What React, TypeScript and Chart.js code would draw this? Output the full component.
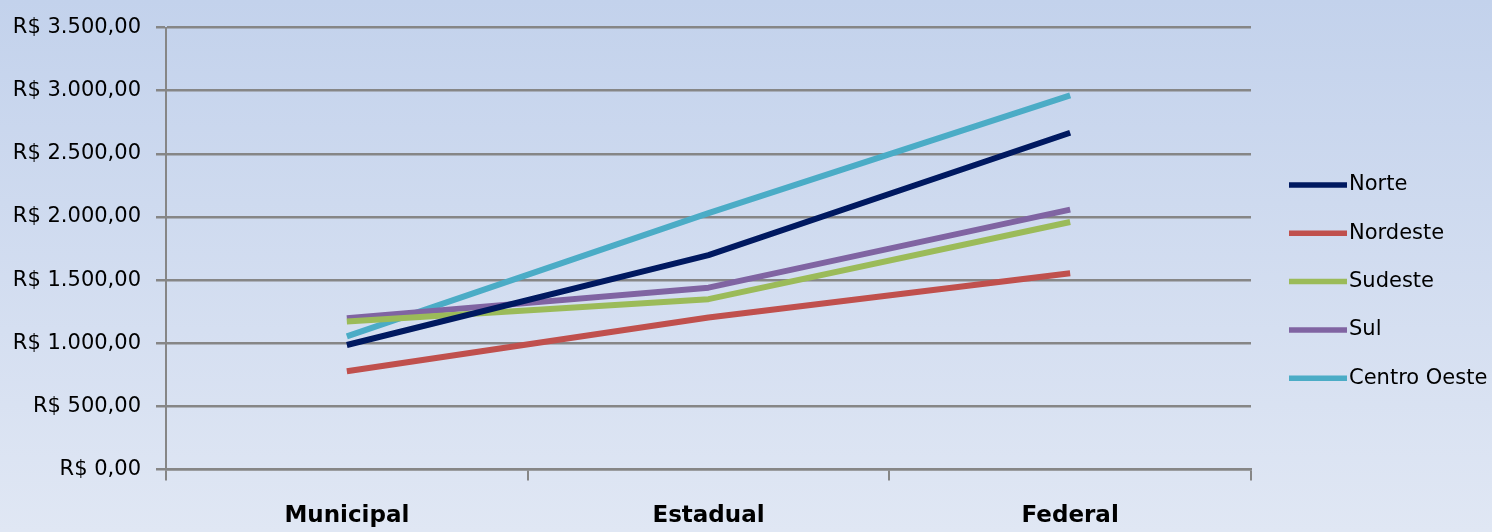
import React, { useEffect, useRef } from "react";
import { Chart, registerables } from "chart.js";

Chart.register(...registerables);

const categories = ["Municipal", "Estadual", "Federal"];
const seriesNames = ["Norte", "Nordeste", "Sudeste", "Sul", "Centro Oeste"];
const norte = [986, 1698, 2667];
const nordeste = [778, 1204, 1554];
const sudeste = [1172, 1349, 1960];
const sul = [1199, 1440, 2058];
const centroOeste = [1054, 2030, 2964];
const seriesColors = ["#001960", "#c0504d", "#9bbb59", "#8064a2", "#4bacc6"];
const yMin = 0;
const yMax = 3500;
const yStep = 500;

function formatBRL(v: number): string {
  const fixed = Math.abs(v).toFixed(2);
  const [intPart, dec] = fixed.split(".");
  const withDots = intPart.replace(/\B(?=(\d{3})+(?!\d))/g, ".");
  return "R$ " + withDots + "," + dec;
}

const GRID = "#868686";

const legendPlugin = {
  id: "customLegend",
  afterDraw(chart: any) {
    const ctx = chart.ctx;
    const area = chart.chartArea;
    const x0 = area.right + 38;
    const lineLen = 58;
    ctx.save();
    chart.data.datasets.forEach((ds: any, i: number) => {
      const y = 185 + i * 48.3;
      ctx.strokeStyle = ds.borderColor;
      ctx.lineWidth = 5.5;
      ctx.lineCap = "butt";
      ctx.beginPath();
      ctx.moveTo(x0, y);
      ctx.lineTo(x0 + lineLen, y);
      ctx.stroke();
      ctx.fillStyle = "#000";
      ctx.font = '21px "DejaVu Sans"';
      ctx.textBaseline = "middle";
      ctx.textAlign = "left";
      ctx.fillText(ds.label, x0 + lineLen + 2, y);
    });
    ctx.restore();
  },
};

export default function App() {
  const ref = useRef<HTMLCanvasElement | null>(null);

  useEffect(() => {
    if (!ref.current) return;
    const values = [norte, nordeste, sudeste, sul, centroOeste];
    const chart = new Chart(ref.current, {
      type: "line",
      data: {
        labels: categories,
        datasets: seriesNames.map((name, i) => ({
          label: name,
          data: values[i],
          borderColor: seriesColors[i],
          backgroundColor: seriesColors[i],
          borderWidth: 6,
          pointRadius: 0,
          pointHoverRadius: 0,
          tension: 0,
          fill: false,
          borderCapStyle: "butt",
          borderJoinStyle: "round",
        })),
      },
      options: {
        responsive: false,
        animation: false,
        events: [],
        layout: { padding: { top: 25, right: 241, bottom: 0, left: 0 } },
        plugins: {
          legend: { display: false },
          tooltip: { enabled: false },
          title: { display: false },
        },
        scales: {
          x: {
            type: "category",
            offset: true,
            afterFit: (s: any) => {
              s.height = 62.5;
            },
            grid: {
              offset: true,
              drawOnChartArea: false,
              drawTicks: true,
              tickLength: 11,
              color: GRID,
              lineWidth: 2,
            },
            border: { display: true, color: GRID, width: 2.5 },
            ticks: {
              color: "#000",
              padding: 22,
              maxRotation: 0,
              font: { family: "DejaVu Sans", size: 23, weight: "bold" },
            },
          },
          y: {
            min: yMin,
            max: yMax,
            afterFit: (s: any) => {
              s.width = 166;
            },
            grid: {
              color: GRID,
              lineWidth: 2.5,
              drawTicks: true,
              tickLength: 10,
            },
            border: { display: true, color: GRID, width: 2 },
            ticks: {
              stepSize: yStep,
              color: "#000",
              padding: 15,
              font: { family: "DejaVu Sans", size: 21 },
              callback: (v: any) => formatBRL(Number(v)),
            },
          },
        },
      },
      plugins: [legendPlugin],
    } as any);
    return () => chart.destroy();
  }, []);

  return (
    <div
      style={{
        position: "fixed",
        left: 0,
        top: 0,
        width: 1492,
        height: 532,
        overflow: "hidden",
        background: "linear-gradient(to bottom, #c3d2ec 0%, #e0e7f4 100%)",
      }}
    >
      <canvas ref={ref} width={1492} height={532} style={{ display: "block" }} />
    </div>
  );
}
